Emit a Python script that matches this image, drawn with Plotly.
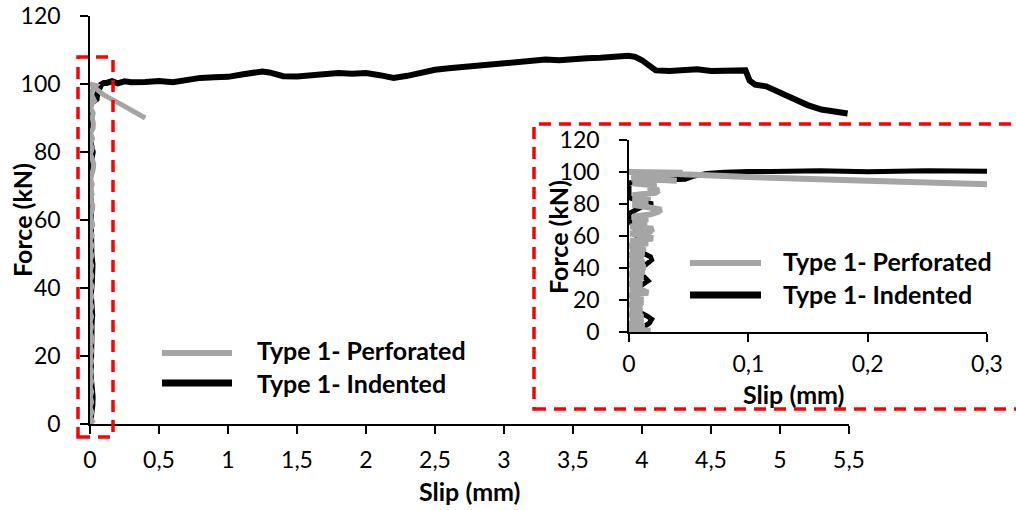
import plotly.graph_objects as go

W, H = 1016, 510

# ---------------- data ----------------
series_names = ["Type 1- Perforated", "Type 1- Indented"]

# Type 1- Indented (black)
ind_x = [0.000, 0.012, 0.017, 0.019, 0.015, 0.005, 0.008, 0.005, 0.012, 0.016,
         0.012, 0.006, 0.014, 0.019, 0.018, 0.010, 0.006, 0.008, 0.004, 0.000,
         0.000, 0.010, 0.020, 0.008, 0.000, 0.000, 0.010, 0.028, 0.047, 0.055,
         0.065, 0.080, 0.100, 0.120, 0.160, 0.200, 0.250, 0.300, 0.40, 0.50,
         0.60, 0.70, 0.80, 0.90, 1.00, 1.10, 1.20, 1.25, 1.30, 1.40,
         1.50, 1.60, 1.70, 1.80, 1.90, 2.00, 2.10, 2.20, 2.30, 2.40,
         2.50, 2.60, 2.70, 2.80, 2.90, 3.00, 3.10, 3.20, 3.30, 3.40,
         3.50, 3.60, 3.70, 3.80, 3.90, 3.95, 4.00, 4.05, 4.10, 4.20,
         4.30, 4.40, 4.50, 4.60, 4.70, 4.75, 4.78, 4.82, 4.90, 5.00,
         5.10, 5.20, 5.30, 5.40, 5.49]
ind_y = [0.0, 3.0, 5.5, 8.0, 10.0, 14.0, 20.0, 26.0, 30.0, 32.0,
         35.0, 38.0, 42.0, 45.0, 47.0, 50.0, 56.0, 62.0, 66.0, 70.0,
         74.0, 78.0, 80.0, 82.0, 84.0, 93.0, 95.0, 95.0, 95.5, 97.5,
         99.0, 99.8, 100.3, 100.3, 100.8, 100.2, 100.8, 100.5, 100.6, 100.9,
         100.5, 101.2, 101.8, 102.0, 102.1, 102.8, 103.6, 103.7, 103.4, 102.3,
         102.2, 102.6, 103.2, 103.2, 103.0, 103.2, 102.6, 101.8, 102.4, 103.3,
         104.2, 104.6, 105.0, 105.5, 105.9, 106.3, 106.8, 106.9, 107.2, 107.0,
         107.4, 107.6, 107.7, 108.2, 108.3, 108.0, 107.0, 105.5, 104.0, 103.8,
         104.0, 104.3, 103.8, 104.0, 104.2, 104.0, 101.0, 99.8, 99.3, 97.5,
         95.5, 93.8, 92.5, 92.0, 91.3]

# Type 1- Perforated (grey)
perf_x = [0.000, 0.018, 0.000, 0.013, 0.000, 0.012, 0.001, 0.012, 0.000, 0.011,
          0.001, 0.011, 0.000, 0.012, 0.001, 0.012, 0.000, 0.016, 0.013, 0.001,
          0.011, 0.000, 0.011, 0.001, 0.012, 0.000, 0.013, 0.001, 0.014, 0.000,
          0.013, 0.001, 0.012, 0.000, 0.013, 0.001, 0.014, 0.000, 0.016, 0.001,
          0.020, 0.014, 0.001, 0.018, 0.020, 0.001, 0.015, 0.003, 0.016, 0.003,
          0.018, 0.024, 0.027, 0.016, 0.003, 0.016, 0.003, 0.018, 0.003, 0.022,
          0.025, 0.016, 0.023, 0.003, 0.020, 0.002, 0.040, 0.002, 0.045, 0.000,
          0.050, 0.100, 0.200, 0.300, 0.400]
perf_y = [0.0, 0.8, 2.0, 3.5, 5.0, 6.5, 8.0, 9.5, 11.0, 12.5,
          14.0, 15.5, 17.0, 18.5, 20.0, 21.5, 23.0, 24.5, 25.5, 27.0,
          28.5, 30.0, 31.5, 33.0, 34.5, 36.0, 37.5, 39.0, 40.5, 42.0,
          43.5, 45.0, 46.5, 48.0, 49.5, 51.0, 52.5, 54.0, 55.5, 57.0,
          58.5, 60.0, 61.5, 63.0, 64.5, 66.0, 67.5, 69.0, 70.5, 72.0,
          73.5, 75.0, 76.5, 78.0, 79.5, 81.0, 82.5, 84.0, 85.5, 87.0,
          88.5, 90.0, 91.5, 93.0, 94.5, 96.0, 94.5, 97.5, 99.5, 100.0,
          98.5, 96.8, 94.6, 92.4, 90.0]

main_xticks = [0, 0.5, 1, 1.5, 2, 2.5, 3, 3.5, 4, 4.5, 5, 5.5]
main_xlabels = ["0", "0,5", "1", "1,5", "2", "2,5", "3", "3,5", "4", "4,5", "5", "5,5"]
yticks = [0, 20, 40, 60, 80, 100, 120]
ylabels = ["0", "20", "40", "60", "80", "100", "120"]
inset_xticks = [0, 0.1, 0.2, 0.3]
inset_xlabels = ["0", "0,1", "0,2", "0,3"]
x_title = "Slip (mm)"
y_title = "Force (kN)"

# ---------------- styling ----------------
GREY = "#A5A5A5"
BLACK = "#000000"
RED = "#FF0000"
FONT = "Lato"


def fx(px):
    return px / W


def fy(py):
    return 1 - py / H


fig = go.Figure()

# main chart
fig.add_trace(go.Scatter(x=ind_x, y=ind_y, mode="lines", name=series_names[1],
                         line=dict(color=BLACK, width=6), xaxis="x", yaxis="y",
                         showlegend=False))
fig.add_trace(go.Scatter(x=perf_x, y=perf_y, mode="lines", name=series_names[0],
                         line=dict(color=GREY, width=5), xaxis="x", yaxis="y",
                         showlegend=False))
# inset
fig.add_trace(go.Scatter(x=ind_x, y=ind_y, mode="lines", name=series_names[1],
                         line=dict(color=BLACK, width=5, simplify=False),
                         xaxis="x2", yaxis="y2", showlegend=False))
fig.add_trace(go.Scatter(x=perf_x, y=perf_y, mode="lines", name=series_names[0],
                         line=dict(color=GREY, width=6, simplify=False),
                         xaxis="x2", yaxis="y2", showlegend=False))

axis_common = dict(showgrid=False, zeroline=False, showline=True, linecolor=BLACK,
                   linewidth=1.5, ticks="outside", ticklen=8, tickcolor=BLACK,
                   tickwidth=1.5, tickfont=dict(family=FONT, size=23, color=BLACK),
                   tickmode="array", fixedrange=True, automargin=False)

fig.update_layout(
    width=W, height=H, autosize=False,
    margin=dict(l=0, r=0, t=0, b=0, pad=0, autoexpand=False),
    paper_bgcolor="white", plot_bgcolor="rgba(0,0,0,0)",
    font=dict(family=FONT, size=23, color=BLACK),
    showlegend=False,
    xaxis=dict(domain=[fx(90), fx(849)], range=[0, 5.5], anchor="y",
               tickvals=main_xticks, ticktext=main_xlabels,
               ticklabelstandoff=7, **axis_common),
    yaxis=dict(domain=[fy(424), fy(16)], range=[0, 120], anchor="x",
               tickvals=yticks, ticktext=ylabels,
               ticklabelstandoff=15, **axis_common),
    xaxis2=dict(domain=[fx(629), fx(987)], range=[0, 0.3], anchor="y2",
                tickvals=inset_xticks, ticktext=inset_xlabels,
                ticklabelstandoff=3, **axis_common),
    yaxis2=dict(domain=[fy(332), fy(140)], range=[0, 120], anchor="x2",
                tickvals=yticks, ticktext=ylabels,
                ticklabelstandoff=15, **axis_common),
)

title_font = dict(family=FONT, size=25, color=BLACK, weight="bold")
legend_font = dict(family=FONT, size=25, color=BLACK, weight="bold")

annotations = [
    dict(text=y_title, x=fx(22), y=fy(220), textangle=-90),
    dict(text=x_title, x=fx(469), y=fy(491)),
    dict(text=y_title, x=fx(558), y=fy(237), textangle=-90),
    dict(text=x_title, x=fx(793), y=fy(394)),
]
for a in annotations:
    a.update(xref="paper", yref="paper", showarrow=False, font=title_font,
             xanchor="center", yanchor="middle")

# legends (main and inset)
legend_rows = [
    # (x_line0, x_line1, y_line, y_text, x_text, name, colour, width)
    (162, 232, 353, 350, 255, series_names[0], GREY, 6),
    (162, 232, 383, 383, 255, series_names[1], BLACK, 7),
    (690, 761, 263, 261, 781, series_names[0], GREY, 6),
    (690, 761, 295, 294, 781, series_names[1], BLACK, 7),
]
shapes = []
for x0, x1, yl, yt, xt, name, col, w in legend_rows:
    shapes.append(dict(type="line", xref="paper", yref="paper",
                       x0=fx(x0), x1=fx(x1), y0=fy(yl), y1=fy(yl),
                       line=dict(color=col, width=w)))
    annotations.append(dict(text=name, x=fx(xt), y=fy(yt), xref="paper",
                            yref="paper", showarrow=False, font=legend_font,
                            xanchor="left", yanchor="middle"))

# red dashed zoom frames
shapes.append(dict(type="rect", xref="paper", yref="paper",
                   x0=fx(78), x1=fx(113), y0=fy(437), y1=fy(57),
                   line=dict(color=RED, width=3.5, dash="12px,8px"),
                   fillcolor="rgba(0,0,0,0)", layer="above"))
shapes.append(dict(type="rect", xref="paper", yref="paper",
                   x0=fx(534), x1=fx(1030), y0=fy(409), y1=fy(124),
                   line=dict(color=RED, width=3.5, dash="12px,8px"),
                   fillcolor="rgba(0,0,0,0)", layer="above"))

fig.update_layout(annotations=annotations, shapes=shapes)

fig.write_html("out.html")
